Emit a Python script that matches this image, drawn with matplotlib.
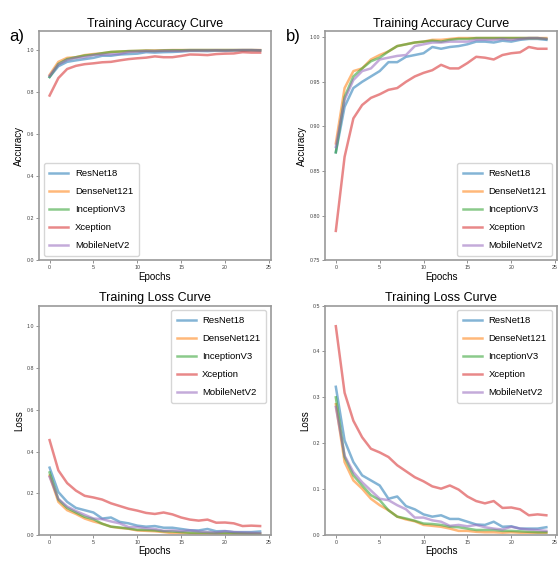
#!/usr/bin/env python3
import matplotlib
matplotlib.use("Agg")
import matplotlib.pyplot as plt

epochs = list(range(25))
models = ["ResNet18", "DenseNet121", "InceptionV3", "Xception", "MobileNetV2"]

acc_resnet = [0.871, 0.922, 0.943, 0.950, 0.956, 0.962, 0.972, 0.972, 0.978, 0.980,
              0.982, 0.989, 0.987, 0.989, 0.990, 0.992, 0.995, 0.995, 0.994, 0.996,
              0.995, 0.997, 0.998, 0.998, 0.997]
acc_dense = [0.881, 0.943, 0.962, 0.965, 0.975, 0.980, 0.984, 0.990, 0.992, 0.994,
             0.995, 0.997, 0.997, 0.998, 0.999, 0.999, 0.999, 0.999, 0.999, 0.999,
             0.999, 0.999, 0.999, 0.999, 0.999]
acc_incep = [0.871, 0.933, 0.956, 0.965, 0.973, 0.977, 0.984, 0.990, 0.992, 0.994,
             0.995, 0.996, 0.995, 0.997, 0.998, 0.998, 0.999, 0.999, 0.999, 0.999,
             0.999, 0.999, 0.999, 0.999, 0.998]
acc_xcep = [0.783, 0.866, 0.909, 0.924, 0.932, 0.936, 0.941, 0.943, 0.950, 0.956,
            0.960, 0.963, 0.969, 0.965, 0.965, 0.971, 0.978, 0.977, 0.975, 0.980,
            0.982, 0.983, 0.989, 0.987, 0.987]
acc_mobile = [0.877, 0.930, 0.952, 0.962, 0.965, 0.975, 0.977, 0.979, 0.980, 0.990,
              0.992, 0.994, 0.994, 0.995, 0.995, 0.995, 0.997, 0.997, 0.997, 0.998,
              0.997, 0.998, 0.999, 0.999, 0.998]

loss_resnet = [0.323, 0.206, 0.159, 0.130, 0.119, 0.108, 0.079, 0.084, 0.063, 0.056,
               0.045, 0.040, 0.043, 0.035, 0.035, 0.029, 0.023, 0.022, 0.029, 0.018,
               0.019, 0.014, 0.014, 0.014, 0.017]
loss_dense = [0.285, 0.159, 0.119, 0.101, 0.079, 0.065, 0.054, 0.040, 0.034, 0.030,
              0.022, 0.020, 0.018, 0.014, 0.009, 0.009, 0.007, 0.006, 0.006, 0.005,
              0.006, 0.005, 0.005, 0.005, 0.005]
loss_incep = [0.300, 0.170, 0.130, 0.108, 0.087, 0.076, 0.054, 0.040, 0.036, 0.031,
              0.025, 0.024, 0.022, 0.018, 0.017, 0.014, 0.011, 0.011, 0.011, 0.009,
              0.009, 0.008, 0.007, 0.006, 0.006]
loss_xcep = [0.455, 0.310, 0.249, 0.213, 0.188, 0.180, 0.170, 0.152, 0.139, 0.126,
             0.117, 0.106, 0.101, 0.108, 0.099, 0.084, 0.074, 0.069, 0.074, 0.059,
             0.060, 0.056, 0.043, 0.045, 0.043]
loss_mobile = [0.279, 0.173, 0.137, 0.115, 0.097, 0.079, 0.076, 0.065, 0.056, 0.038,
               0.038, 0.032, 0.029, 0.020, 0.022, 0.019, 0.022, 0.017, 0.014, 0.012,
               0.018, 0.014, 0.012, 0.011, 0.009]

acc_all = [acc_resnet, acc_dense, acc_incep, acc_xcep, acc_mobile]
loss_all = [loss_resnet, loss_dense, loss_incep, loss_xcep, loss_mobile]


def draw(ax, series, title, ylabel, ylim, loc):
    for name, vals in zip(models, series):
        ax.plot(epochs, vals, label=name, linewidth=1.8, alpha=0.55)
    ax.set_title(title, fontsize=9, pad=3)
    ax.set_xlabel("Epochs", fontsize=7, labelpad=1)
    ax.set_ylabel(ylabel, fontsize=7, labelpad=2)
    ax.set_ylim(*ylim)
    ax.set_xticks([0, 5, 10, 15, 20, 25])
    ax.tick_params(labelsize=3.8, length=2, width=0.6, color="0.5",
                   labelcolor="0.25", pad=1.5)
    for s in ax.spines.values():
        s.set_color("0.6")
        s.set_linewidth(1.2)
    ax.legend(loc=loc, fontsize=6.8, handlelength=2.0, labelspacing=0.95,
              borderpad=0.6, handletextpad=0.7, frameon=True)


def main():
    plt.rcParams["font.family"] = ["Liberation Sans", "DejaVu Sans"]
    fig, axes = plt.subplots(2, 2, figsize=(5.58, 5.62), dpi=100)
    fig.subplots_adjust(left=0.07, right=0.998, bottom=0.048, top=0.945,
                        wspace=0.236, hspace=0.197)

    draw(axes[0, 0], acc_all, "Training Accuracy Curve", "Accuracy", (0, 1.09), "lower left")
    draw(axes[0, 1], acc_all, "Training Accuracy Curve", "Accuracy", (0.75, 1.007), "lower right")
    draw(axes[1, 0], loss_all, "Training Loss Curve", "Loss", (0, 1.1), "upper right")
    draw(axes[1, 1], loss_all, "Training Loss Curve", "Loss", (0, 0.5), "upper right")

    fig.text(0.016, 0.935, "a)", fontsize=12, va="center")
    fig.text(0.512, 0.935, "b)", fontsize=12, va="center")

    plt.savefig("out.png", dpi=100)
    plt.close()


if __name__ == "__main__":
    main()
